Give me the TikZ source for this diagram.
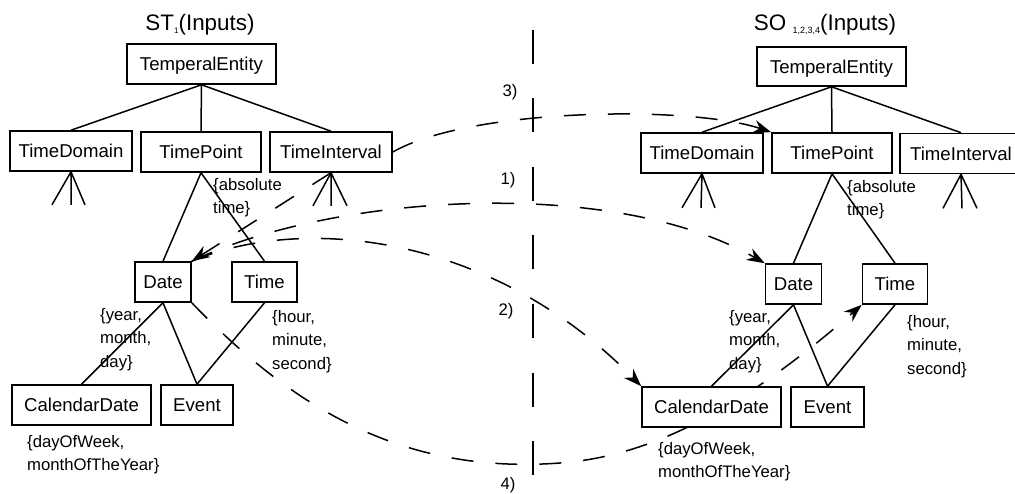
\documentclass[tikz,border=0pt]{standalone}
\usepackage{fontspec}
\setmainfont{Liberation Sans}
\usetikzlibrary{arrows.meta}
\pgfdeclarelayer{background}
\pgfsetlayers{background,main}
\begin{document}
\begin{tikzpicture}[x=1pt,y=-1pt,
  box/.style={draw, line width=1.6pt, fill=white, inner sep=0pt,
    font=\fontsize{18.6}{20}\selectfont, text height=13.3pt, text depth=0pt,
    minimum height=40pt},
  ann/.style={anchor=north west, inner sep=0pt, align=left,
    font=\fontsize{16.7}{23.5}\selectfont},
  ttl/.style={anchor=base, inner sep=0pt, font=\fontsize{22.4}{24}\selectfont},
  lbl/.style={inner sep=0pt, font=\fontsize{16.7}{18}\selectfont},
  edge/.style={line width=1.5pt},
  dl/.style={line width=1.5pt, dash pattern=on 22pt off 22pt},
  sep/.style={line width=1.5pt, dash pattern=on 34pt off 34.5pt},
  tip/.style={-{Stealth[length=18pt,width=13pt]}}
]
\useasboundingbox (0,0) rectangle (1015,494);
\begin{pgfonlayer}{background}
\fill[white] (0,0) rectangle (1015,494);
\end{pgfonlayer}

% titles
\node[ttl] (t1) at (200,31) {ST\raisebox{-3pt}{\fontsize{8}{8}\selectfont 1}(Inputs)};
\node[ttl] (t2) at (825,31) {SO \raisebox{-3pt}{\fontsize{9}{9}\selectfont 1,2,3,4}(Inputs)};

% left tree
\node[box, minimum width=149pt] (lTE) at (201.5,64) {TemperalEntity};
\node[box, minimum width=122pt] (lTD) at (71,151) {TimeDomain};
\node[box, minimum width=120pt] (lTP) at (201,152) {TimePoint};
\node[box, minimum width=122pt] (lTI) at (331,152) {TimeInterval};
\node[box, minimum width=56pt] (lDate) at (163,282) {Date};
\node[box, minimum width=65pt] (lTime) at (264.5,282) {Time};
\node[box, minimum width=139pt] (lCal) at (81.5,405) {CalendarDate};
\node[box, minimum width=72pt] (lEvent) at (197,405) {Event};

% right tree
\node[box, minimum width=149pt, minimum height=39pt] (rTE) at (831.5,66.5) {TemperalEntity};
\node[box, minimum width=122pt] (rTD) at (702,153) {TimeDomain};
\node[box, minimum width=120pt] (rTP) at (832,153) {TimePoint};
\node[box, minimum width=122pt] (rTI) at (961,153.5) {TimeInterval};
\node[box, minimum width=56pt] (rDate) at (793.5,284) {Date};
\node[box, minimum width=65pt] (rTime) at (895,284) {Time};
\node[box, minimum width=139pt] (rCal) at (711.5,407) {CalendarDate};
\node[box, minimum width=73pt] (rEvent) at (827.5,407) {Event};

% tree edges left
\draw[edge] (lTE.south) -- (lTD.north);
\draw[edge] (lTE.south) -- (lTP.north);
\draw[edge] (lTE.south) -- (lTI.north);
\draw[edge] (lTP.south) -- (lDate.north);
\draw[edge] (lTP.south) -- (lTime.north);
\draw[edge] (lDate.south) -- (lCal.north);
\draw[edge] (lDate.south) -- (lEvent.north);
\draw[edge] (lTime.south) -- (lEvent.north);
\draw[edge] (lTD.south) -- ++(-19,33) (lTD.south) -- ++(0,33) (lTD.south) -- ++(14,33);
\draw[edge] (lTI.south) -- ++(-18,33) (lTI.south) -- ++(0,33) (lTI.south) -- ++(16,33);

% tree edges right
\draw[edge] (rTE.south) -- (rTD.north);
\draw[edge] (rTE.south) -- (rTP.north);
\draw[edge] (rTE.south) -- (rTI.north);
\draw[edge] (rTP.south) -- (rDate.north);
\draw[edge] (rTP.south) -- (rTime.north);
\draw[edge] (rDate.south) -- (rCal.north);
\draw[edge] (rDate.south) -- (rEvent.north);
\draw[edge] (rTime.south) -- (rEvent.north);
\draw[edge] (rTD.south) -- ++(-20,34) (rTD.south) -- ++(-1,34) (rTD.south) -- ++(13,34);
\draw[edge] (rTI.south) -- ++(-18,34) (rTI.south) -- ++(1,34) (rTI.south) -- ++(16,34);

% annotations
\node[ann] (la1) at (213,178) {\{absolute\\time\}};
\node[ann] (la2) at (100,308) {\{year,\\month,\\day\}};
\node[ann] (la3) at (272,310) {\{hour,\\minute,\\second\}};
\node[ann] (la4) at (27,435) {\{dayOfWeek,\\monthOfTheYear\}};
\node[ann] (ra1) at (847,180) {\{absolute\\time\}};
\node[ann] (ra2) at (729,310) {\{year,\\month,\\day\}};
\node[ann] (ra3) at (907,315) {\{hour,\\minute,\\second\}};
\node[ann] (ra4) at (658,442) {\{dayOfWeek,\\monthOfTheYear\}};

% mapping labels
\node[lbl] (m3) at (510,92) {3)};
\node[lbl] (m1) at (508,180) {1)};
\node[lbl] (m2) at (506,311) {2)};
\node[lbl] (m4) at (508,485) {4)};

% dashed connectors
\coordinate (sepTop) at (533,30);
\coordinate (sepBot) at (533,475);
\begin{pgfonlayer}{background}
\draw[sep] (sepTop) -- (sepBot);
\draw[dl, tip] (lTI.south) -- (lDate.north east);
\draw[dl, tip] (lDate.north east) .. controls (330,195) and (610,175) .. (rDate.north west);
\draw[dl, tip] (lDate.north east) .. controls (300,215) and (490,232) .. (rCal.north west);
\draw[dl, tip] (lTI.east) .. controls (470,108) and (690,105) .. (rTP.north west);
\draw[dl, tip] (lDate.south east) .. controls (290,405) and (400,475) .. (560,463)
   .. controls (640,457) and (730,420) .. (rTime.south west);
\end{pgfonlayer}
\end{tikzpicture}
\end{document}
